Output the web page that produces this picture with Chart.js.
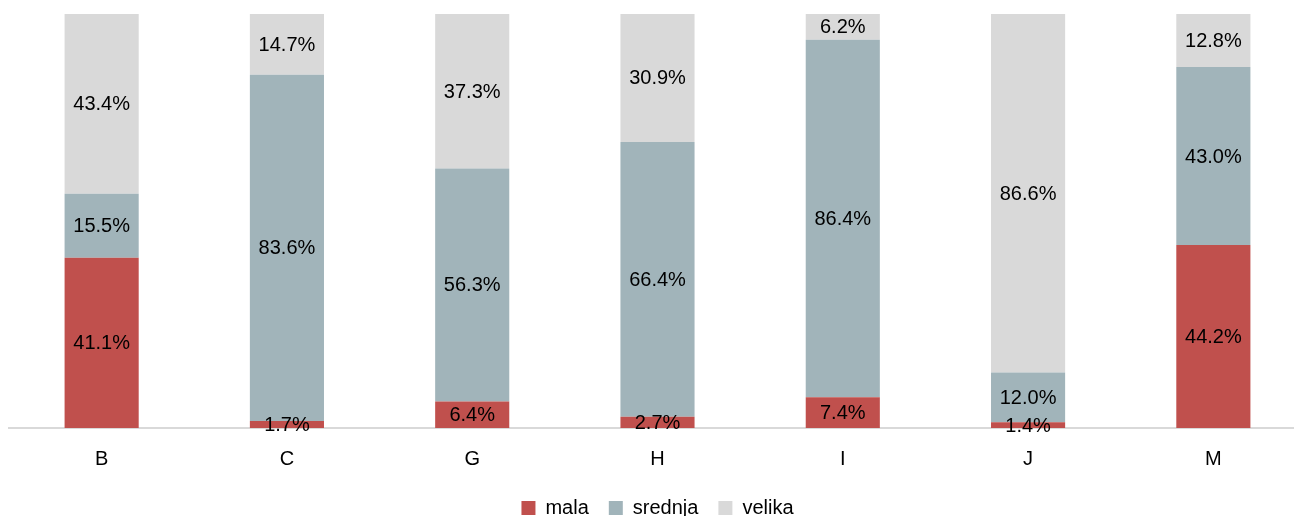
<!DOCTYPE html>
<html>
<head>
<meta charset="utf-8">
<script src="https://cdn.jsdelivr.net/npm/chart.js@4"></script>
<style>
  html, body { margin: 0; padding: 0; background: #fff; overflow: hidden; }
  #wrap { width: 1306px; height: 528px; }
</style>
</head>
<body>
<div id="wrap"><canvas id="grafico"></canvas></div>
<script>
const categorias = ["B", "C", "G", "H", "I", "J", "M"];
const mala    = [41.1, 1.7, 6.4, 2.7, 7.4, 1.4, 44.2];
const srednja = [15.5, 83.6, 56.3, 66.4, 86.4, 12.0, 43.0];
const velika  = [43.4, 14.7, 37.3, 30.9, 6.2, 86.6, 12.8];

const fuente = "'Liberation Sans', Arial, sans-serif";

// etiquetas dentro de cada segmento
const etiquetasPlugin = {
    id: "etiquetas",
    afterDatasetsDraw(chart) {
        const ctx = chart.ctx;
        ctx.save();
        ctx.font = "20px " + fuente;
        ctx.fillStyle = "#000";
        ctx.textAlign = "center";
        ctx.textBaseline = "middle";
        chart.data.datasets.forEach((ds, i) => {
            const meta = chart.getDatasetMeta(i);
            meta.data.forEach((bar, j) => {
                const y = (bar.y + bar.base) / 2;
                ctx.fillText(ds.data[j].toFixed(1) + "%", bar.x, y + 1);
            });
        });
        ctx.restore();
    }
};

new Chart(document.getElementById("grafico"), {
    type: "bar",
    data: {
        labels: categorias,
        datasets: [
            { label: "mala", data: mala, backgroundColor: "#C0504D" },
            { label: "srednja", data: srednja, backgroundColor: "#A1B4BA" },
            { label: "velika", data: velika, backgroundColor: "#D9D9D9" }
        ]
    },
    options: {
        responsive: true,
        maintainAspectRatio: false,
        animation: false,
        categoryPercentage: 1,
        barPercentage: 0.4,
        layout: { padding: { left: 9, right: 0, top: 14, bottom: 0 } },
        plugins: {
            legend: {
                position: "bottom",
                labels: {
                    color: "#000",
                    font: { family: fuente, size: 20 },
                    boxWidth: 14,
                    boxHeight: 14,
                    padding: 20
                }
            },
            tooltip: { enabled: false }
        },
        scales: {
            x: {
                stacked: true,
                grid: { display: false, drawTicks: false },
                border: { color: "#D9D9D9", width: 2 },
                ticks: { color: "#000", font: { family: fuente, size: 20 }, padding: 19 },
                afterFit(scale) { scale.height = 50; }
            },
            y: {
                stacked: true,
                display: false,
                min: 0,
                max: 100
            }
        }
    },
    plugins: [etiquetasPlugin]
});
</script>
</body>
</html>
